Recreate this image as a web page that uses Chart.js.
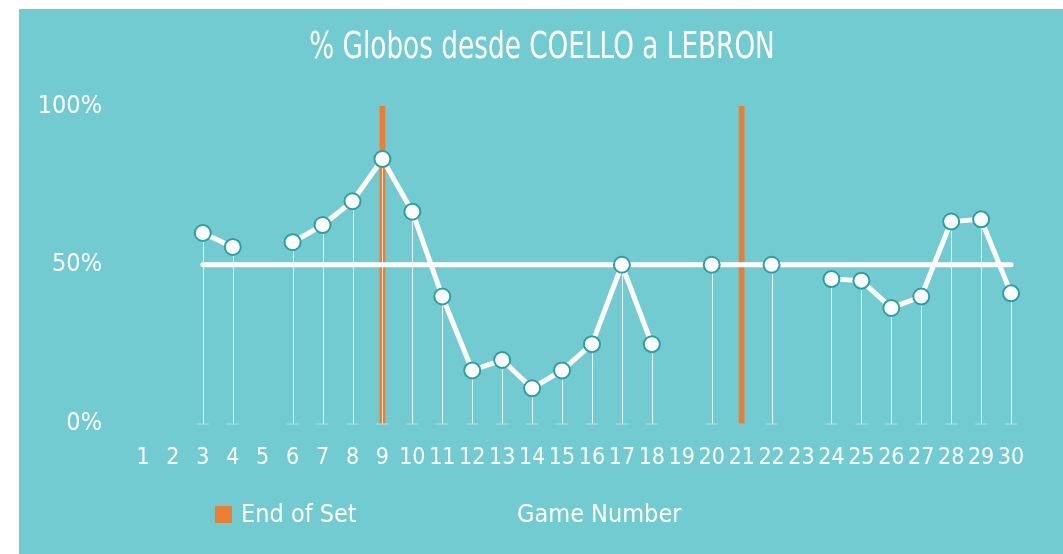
<!DOCTYPE html>
<html>
<head>
<meta charset="utf-8">
<script src="https://cdn.jsdelivr.net/npm/chart.js@4.4.1/dist/chart.umd.min.js"></script>
<style>
  html, body { margin: 0; padding: 0; background: #ffffff; }
  .panel {
    position: absolute;
    left: 19px;
    top: 9px;
    width: 1044px;
    height: 545px;
    background: #72cbd0;
  }
  canvas { display: block; }
</style>
</head>
<body>
<div class="panel">
  <canvas id="lobChart" width="1044" height="545"></canvas>
</div>
<script>
const games = ['1', '2', '3', '4', '5', '6', '7', '8', '9', '10', '11', '12', '13', '14', '15',
  '16', '17', '18', '19', '20', '21', '22', '23', '24', '25', '26', '27', '28', '29', '30'];

// % of lobs per game (null = no data)
const lobPct = [null, null, 60, 55.6, null, 57.1, 62.5, 70, 83.3, 66.7, 40, 16.7, 20, 11.1, 16.7,
  25, 50, 25, null, 50, null, 50, null, 45.5, 45, 36.4, 40, 63.6, 64.3, 41];

// 50% reference line, from game 3 to 30
const halfLine = [null, null, 50, 50, 50, 50, 50, 50, 50, 50, 50, 50, 50, 50, 50,
  50, 50, 50, 50, 50, 50, 50, 50, 50, 50, 50, 50, 50, 50, 50];

// end of set markers
const endOfSet = [null, null, null, null, null, null, null, null, 100, null, null, null, null, null, null,
  null, null, null, null, null, 100, null, null, null, null, null, null, null, null, null];

const yTicks = [0, 50, 100];

const FONT = "'DejaVu Sans Condensed', 'Liberation Sans Narrow', 'Noto Sans', sans-serif";
const WHITE = '#ffffff';
const ORANGE = '#ed7d31';
const TEAL_DARK = '#2e9ea3';

// thin drop lines from each point down to 0%, drawn over the orange bars
const dropLines = {
  id: 'dropLines',
  afterDatasetDraw(chart, args) {
    if (args.index !== 2) return;
    const ctx = chart.ctx;
    const meta = chart.getDatasetMeta(0);
    const y0 = chart.scales.y.getPixelForValue(0);
    ctx.save();
    meta.data.forEach((pt, i) => {
      if (lobPct[i] == null) return;
      ctx.strokeStyle = 'rgba(255,255,255,0.8)';
      ctx.lineWidth = 1;
      ctx.beginPath();
      ctx.moveTo(Math.round(pt.x) + 0.5, pt.y);
      ctx.lineTo(Math.round(pt.x) + 0.5, y0);
      ctx.stroke();
      ctx.strokeStyle = 'rgba(255,255,255,0.45)';
      ctx.beginPath();
      ctx.moveTo(pt.x - 6, y0 + 0.5);
      ctx.lineTo(pt.x + 6, y0 + 0.5);
      ctx.stroke();
    });
    ctx.restore();
  }
};

// title (narrowed to match the condensed face) and legend row
const textBits = {
  id: 'textBits',
  afterDraw(chart) {
    const ctx = chart.ctx;
    ctx.save();
    ctx.fillStyle = WHITE;
    ctx.textBaseline = 'middle';
    ctx.textAlign = 'center';
    ctx.font = '38px ' + FONT;
    ctx.translate(523, 39);
    ctx.scale(0.77, 1);
    ctx.fillText('% Globos desde COELLO a LEBRON', 0, 0);
    ctx.restore();

    ctx.save();
    ctx.fillStyle = ORANGE;
    ctx.fillRect(196, 497, 17, 17);
    ctx.fillStyle = WHITE;
    ctx.font = '25px ' + FONT;
    ctx.textBaseline = 'middle';
    ctx.textAlign = 'left';
    ctx.fillText('End of Set', 222, 506);
    ctx.fillText('Game Number', 498, 506);
    ctx.restore();
  }
};

new Chart(document.getElementById('lobChart'), {
  data: {
    labels: games,
    datasets: [
      {
        type: 'line',
        label: '% Globos',
        data: lobPct,
        borderColor: WHITE,
        borderWidth: 5,
        spanGaps: false,
        pointRadius: 8,
        pointBorderWidth: 2,
        pointBackgroundColor: WHITE,
        pointBorderColor: TEAL_DARK,
        order: 0
      },
      {
        type: 'line',
        label: '50%',
        data: halfLine,
        borderColor: WHITE,
        borderWidth: 5,
        borderCapStyle: 'round',
        pointRadius: 0,
        order: 1
      },
      {
        type: 'bar',
        label: 'End of Set',
        data: endOfSet,
        backgroundColor: ORANGE,
        barThickness: 5,
        order: 2
      }
    ]
  },
  options: {
    responsive: false,
    animation: false,
    layout: { padding: { left: 0, right: 37, top: 97, bottom: 0 } },
    plugins: {
      legend: { display: false },
      tooltip: { enabled: false },
      title: { display: false }
    },
    scales: {
      x: {
        grid: { display: false, drawTicks: false },
        border: { display: false },
        ticks: {
          color: WHITE,
          font: { family: FONT, size: 23 },
          padding: 21,
          maxRotation: 0,
          autoSkip: false
        },
        afterFit(scale) { scale.height = 130.5; }
      },
      y: {
        min: 0,
        max: 100,
        grid: { display: false, drawTicks: false },
        border: { display: false },
        afterBuildTicks(scale) { scale.ticks = yTicks.map(v => ({ value: v })); },
        ticks: {
          color: WHITE,
          font: { family: FONT, size: 25 },
          padding: 26,
          callback: v => v + '%'
        },
        afterFit(scale) { scale.width = 109; }
      }
    }
  },
  plugins: [dropLines, textBits]
});
</script>
</body>
</html>
